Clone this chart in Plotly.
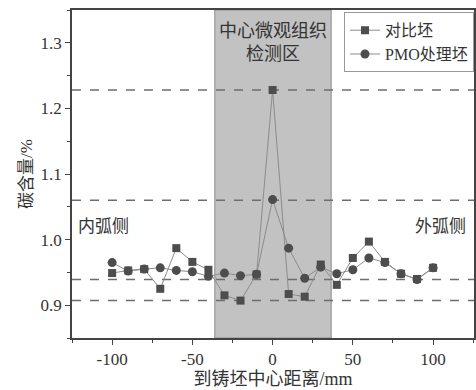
import plotly.graph_objects as go

x_pos = [-100, -90, -80, -70, -60, -50, -40, -30, -20, -10, 0, 10, 20, 30, 40, 50, 60, 70, 80, 90, 100]
contrast = [0.949, 0.953, 0.955, 0.925, 0.987, 0.966, 0.954, 0.915, 0.907, 0.947, 1.228,
            0.917, 0.913, 0.962, 0.931, 0.972, 0.997, 0.966, 0.948, 0.940, 0.957]
pmo = [0.965, 0.952, 0.955, 0.957, 0.953, 0.951, 0.944, 0.949, 0.945, 0.947, 1.061,
       0.987, 0.941, 0.958, 0.948, 0.954, 0.972, 0.965, 0.948, 0.939, 0.957]
ref_levels = [1.228, 1.060, 0.939, 0.907]
zone = [-36, 36.5]
x_tickvals = [-100, -50, 0, 50, 100]
x_ticktext = ["-100", "-50", "0", "50", "100"]
y_tickvals = [0.9, 1.0, 1.1, 1.2, 1.3]
y_ticktext = ["0.9", "1.0", "1.1", "1.2", "1.3"]

font_main = "Liberation Serif, Noto Sans CJK SC, serif"
txt = "#333333"

fig = go.Figure()
fig.add_vrect(x0=zone[0], x1=zone[1], fillcolor="#c2c2c2", opacity=1,
              line=dict(color="#8a8a8a", width=1), layer="below")
for lv in ref_levels:
    fig.add_hline(y=lv, line=dict(color="#6e6e6e", width=1.5, dash="dash"), layer="below")

fig.add_trace(go.Scatter(x=x_pos, y=contrast, name="对比坯", mode="lines+markers",
                         line=dict(color="#8c8c8c", width=1),
                         marker=dict(symbol="square", size=8, color="#4d4d4d")))
fig.add_trace(go.Scatter(x=x_pos, y=pmo, name="PMO处理坯", mode="lines+markers",
                         line=dict(color="#8c8c8c", width=1),
                         marker=dict(symbol="circle", size=9, color="#4d4d4d")))

fig.add_annotation(x=0, y=1.337, xref="x", yref="y", text="中心微观组织<br>检测区",
                   showarrow=False, yanchor="top", font=dict(size=18, color=txt))
fig.add_annotation(x=0.01, y=1.02, xref="paper", yref="y", text="内弧侧",
                   showarrow=False, xanchor="left", font=dict(size=17, color=txt))
fig.add_annotation(x=0.985, y=1.02, xref="paper", yref="y", text="外弧侧",
                   showarrow=False, xanchor="right", font=dict(size=17, color=txt))

axis_common = dict(showline=True, linecolor="#444", linewidth=1.5, mirror=True,
                   ticks="outside", ticklen=5, tickcolor="#444", showgrid=False,
                   zeroline=False, tickfont=dict(size=17, color=txt, family=font_main))
fig.update_xaxes(range=[-125, 125.5], tickmode="array", tickvals=x_tickvals, ticktext=x_ticktext,
                 minor=dict(ticks="outside", ticklen=3, dtick=25, tick0=-125, tickcolor="#444"),
                 title=dict(text="到铸坯中心距离/mm", font=dict(size=18, color=txt), standoff=4),
                 **axis_common)
fig.update_yaxes(range=[0.85, 1.35], tickmode="array", tickvals=y_tickvals, ticktext=y_ticktext,
                 minor=dict(ticks="outside", ticklen=3, dtick=0.05, tick0=0.85, tickcolor="#444"),
                 title=dict(text="碳含量/%", font=dict(size=17, color=txt), standoff=4),
                 **axis_common)

fig.update_layout(width=476, height=390, margin=dict(l=72, r=0, t=10, b=52),
                  plot_bgcolor="white", paper_bgcolor="white",
                  font=dict(family=font_main, color=txt),
                  legend=dict(x=1.0, y=0.993, xanchor="right", yanchor="top",
                              bgcolor="white", bordercolor="#999", borderwidth=1,
                              font=dict(size=16), tracegroupgap=0))
fig.write_html("out.html", config={"displayModeBar": False},
               post_script="document.body.style.margin='0';document.body.style.overflow='hidden';")
